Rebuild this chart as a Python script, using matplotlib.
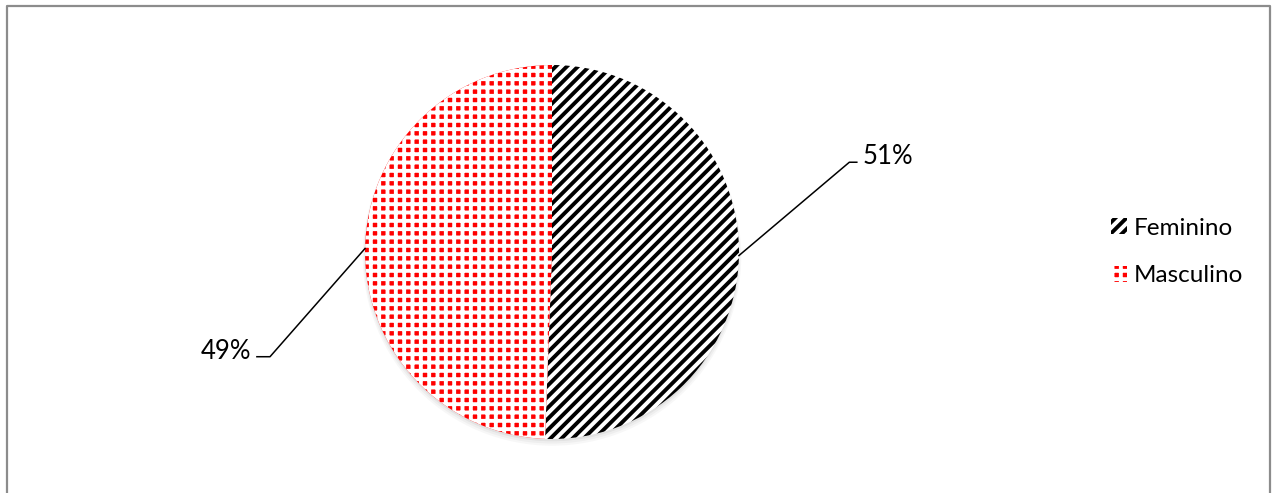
import matplotlib
matplotlib.use("Agg")
import matplotlib.pyplot as plt
from matplotlib.lines import Line2D
from matplotlib.patches import Circle
import numpy as np

categories = ["Feminino", "Masculino"]
values = [50.6, 49.4]
labels = ["51%", "49%"]

plt.rcParams['font.family'] = ['Lato', 'DejaVu Sans']
plt.rcParams['hatch.linewidth'] = 2.8

W, H = 1272, 493
fig = plt.figure(figsize=(W/100, H/100), dpi=100)

# border
fig.add_artist(Line2D([7/W, 7/W, 1270/W, 1270/W], [0, 1-6/H, 1-6/H, 0],
                      transform=fig.transFigure, color='#8c8c8c', lw=1.6))

cx, cy, r = 552, 252, 187
ax = fig.add_axes([(cx-r)/W, (H-cy-r)/H, 2*r/W, 2*r/H])

# soft shadow
for k, a in enumerate([0.10, 0.08, 0.06]):
    ax.add_patch(Circle((0, -0.012 - 0.006*k), 1.0 + 0.006*k, facecolor='#808080',
                        alpha=a, lw=0, zorder=0, clip_on=False))

wedges, _ = ax.pie(values, startangle=90, counterclock=False, radius=1,
                   wedgeprops=dict(linewidth=0))
ax.set_xlim(-1, 1); ax.set_ylim(-1, 1)
ax.set_aspect('equal'); ax.axis('off')

wedges[0].set_facecolor('white'); wedges[0].set_edgecolor('black'); wedges[0].set_hatch('///')
wedges[1].set_facecolor('#ff0000'); wedges[1].set_edgecolor('white'); wedges[1].set_hatch('++')
for w in wedges:
    w.set_linewidth(0)
    w.set_zorder(2)

# labels with leader lines
elbows = [(1.59, 0.48), (-1.508, -0.56)]
ends = [(1.63, 0.48), (-1.578, -0.56)]
for w, lab, el, en in zip(wedges, labels, elbows, ends):
    ang = np.deg2rad((w.theta1 + w.theta2) / 2)
    px, py = np.cos(ang), np.sin(ang)
    ax.plot([px, el[0], en[0]], [py, el[1], el[1]], color='black', lw=1.1, clip_on=False, zorder=3)
    if en[0] > 0:
        ax.text(en[0] + 0.03, el[1] + 0.03, lab, ha='left', va='center', fontsize=18.5, clip_on=False)
    else:
        ax.text(en[0] - 0.03, el[1] + 0.03, lab, ha='right', va='center', fontsize=18.5, clip_on=False)

# legend
leg = fig.legend(wedges, categories, loc='center left', bbox_to_anchor=(1089/W, 1-252/H),
                 frameon=False, fontsize=17.5, handlelength=0.65, handleheight=0.65,
                 labelspacing=1.1, handletextpad=0.3)

fig.savefig("out.png", dpi=100)
